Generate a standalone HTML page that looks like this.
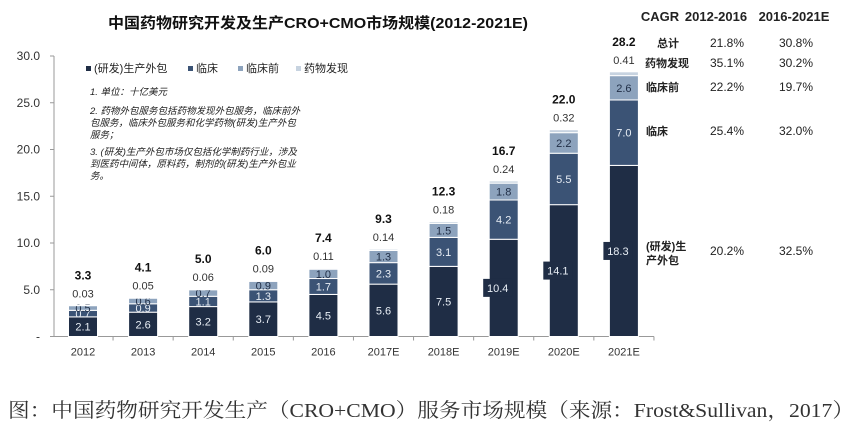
<!DOCTYPE html>
<html><head><meta charset="utf-8"><style>
body{margin:0;background:#fff;width:864px;height:429px;overflow:hidden;font-family:"Liberation Sans","Noto Sans CJK SC",sans-serif;}
</style></head><body>
<svg id="c" width="864" height="429" xmlns="http://www.w3.org/2000/svg" font-family="Liberation Sans, Noto Sans CJK SC, sans-serif">
<text x="318" y="28" text-anchor="middle" font-size="15" font-weight="bold" fill="#111" textLength="420" lengthAdjust="spacingAndGlyphs">中国药物研究开发及生产CRO+CMO市场规模(2012-2021E)</text>
<g font-size="11" fill="#222">
<rect x="86" y="66" width="5" height="5" fill="#1f2d45"/><text x="94" y="72">(研发)生产外包</text>
<rect x="188" y="66" width="5" height="5" fill="#3b5375"/><text x="196" y="72">临床</text>
<rect x="238" y="66" width="5" height="5" fill="#8da3bd"/><text x="246" y="72">临床前</text>
<rect x="296" y="66" width="5" height="5" fill="#c7d3e0"/><text x="304" y="72">药物发现</text>
</g>
<g font-size="9.5" font-style="italic" fill="#222">
<text x="90" y="95">1. 单位：十亿美元</text>
<text x="90" y="114">2. 药物外包服务包括药物发现外包服务，临床前外</text>
<text x="90" y="126">包服务，临床外包服务和化学药物(研发)生产外包</text>
<text x="90" y="138">服务；</text>
<text x="90" y="155">3. (研发)生产外包市场仅包括化学制药行业，涉及</text>
<text x="90" y="167">到医药中间体，原料药，制剂的(研发)生产外包业</text>
<text x="90" y="179">务。</text>
</g>
<g font-size="12" fill="#222">
<text x="660" y="21" text-anchor="middle" font-weight="bold" font-size="13">CAGR</text>
<text x="716" y="21" text-anchor="middle" font-weight="bold" font-size="13">2012-2016</text>
<text x="794" y="21" text-anchor="middle" font-weight="bold" font-size="13">2016-2021E</text>
<text x="668" y="47" text-anchor="middle" font-weight="bold" font-size="11">总计</text>
<text x="667" y="67" text-anchor="middle" font-weight="bold" font-size="11">药物发现</text>
<text x="646" y="91" font-weight="bold" font-size="11">临床前</text>
<text x="646" y="135" font-weight="bold" font-size="11">临床</text>
<text x="646" y="250" font-weight="bold" font-size="11">(研发)生</text>
<text x="646" y="264" font-weight="bold" font-size="11">产外包</text>
<text x="727" y="47" text-anchor="middle">21.8%</text><text x="796" y="47" text-anchor="middle">30.8%</text>
<text x="727" y="67" text-anchor="middle">35.1%</text><text x="796" y="67" text-anchor="middle">30.2%</text>
<text x="727" y="91" text-anchor="middle">22.2%</text><text x="796" y="91" text-anchor="middle">19.7%</text>
<text x="727" y="135" text-anchor="middle">25.4%</text><text x="796" y="135" text-anchor="middle">32.0%</text>
<text x="727" y="255" text-anchor="middle">20.2%</text><text x="796" y="255" text-anchor="middle">32.5%</text>
</g>
<text x="8" y="417" font-size="20" fill="#333" font-family="Liberation Serif, Noto Serif CJK SC, serif" textLength="846" lengthAdjust="spacingAndGlyphs">图：中国药物研究开发生产（CRO+CMO）服务市场规模（来源：Frost&amp;Sullivan，2017）</text>
<g id="plot"></g>
</svg>
<script>
const categories=["2012","2013","2014","2015","2016","2017E","2018E","2019E","2020E","2021E"];
const cmo=[2.1,2.6,3.2,3.7,4.5,5.6,7.5,10.4,14.1,18.3];
const clinical=[0.7,0.9,1.1,1.3,1.7,2.3,3.1,4.2,5.5,7.0];
const preclinical=[0.5,0.6,0.7,0.9,1.0,1.3,1.5,1.8,2.2,2.6];
const discovery=[0.03,0.05,0.06,0.09,0.11,0.14,0.18,0.24,0.32,0.41];
const totals=["3.3","4.1","5.0","6.0","7.4","9.3","12.3","16.7","22.0","28.2"];
const yTicks=[0,5,10,15,20,25,30];
const y0=336.5,ppu=9.35,x0=83,step=60.1,bw=29;
const Y=v=>y0-v*ppu, X=i=>x0+i*step;
const NS="http://www.w3.org/2000/svg",g=document.getElementById('plot');
function mk(t,a,txt){const e=document.createElementNS(NS,t);for(const k in a)e.setAttribute(k,a[k]);if(txt!=null)e.textContent=txt;g.appendChild(e);return e;}
let ax=mk('line',{x1:54,y1:Y(30),x2:54,y2:y0,stroke:'#999'});


let bx=mk('line',{x1:54,y1:y0,x2:X(9)+step/2,y2:y0,stroke:'#999'});


yTicks.forEach(t=>{
 mk('line',{x1:50,y1:Y(t),x2:54,y2:Y(t),stroke:'#999'});
 const l=mk('text',{x:40,y:Y(t)+4,'text-anchor':'end','font-size':12,fill:'#333'},t===0?'-':t.toFixed(1));
 
 
});
const series=[[cmo,'#1f2d45','cmo'],[clinical,'#3b5375','clinical'],[preclinical,'#8da3bd','preclinical'],[discovery,'#c7d3e0','discovery']];
categories.forEach((c,i)=>{
 const cx=X(i);
 mk('line',{x1:cx+step/2,y1:y0,x2:cx+step/2,y2:y0+4,stroke:'#999'});
 const xl=mk('text',{x:cx,y:y0+19,'text-anchor':'middle','font-size':11,fill:'#333'},c);
 
 
 let base=0;
 series.forEach(([arr,col,nm],si)=>{
  const v=arr[i];
  const r=mk('rect',{x:cx-bw/2,y:Y(base+v),width:bw,height:v*ppu,fill:col,stroke:'#fff','stroke-width':1});
  
  
  if(si<3){
   const mid=Y(base+v/2);
   if(si===0&&i>=7){mk('rect',{x:cx-bw/2-6,y:mid-9,width:bw,height:18,fill:'#1f2d45'});}
   const tx=(si===0&&i>=7)?cx-6:cx;
   const tl=mk('text',{x:tx,y:mid+4,'text-anchor':'middle','font-size':11,fill:si===2?'#1f2d45':'#e8eef5'},v.toFixed(1));
   
   
  }
  base+=v;
 });
 const dl=mk('text',{x:cx,y:Y(base)-8,'text-anchor':'middle','font-size':11,fill:'#333'},discovery[i].toFixed(2));
 
 
 const tl=mk('text',{x:cx,y:Y(base)-26,'text-anchor':'middle','font-size':12,'font-weight':'bold',fill:'#111'},totals[i]);
 
 
});
</script>
</body></html>
